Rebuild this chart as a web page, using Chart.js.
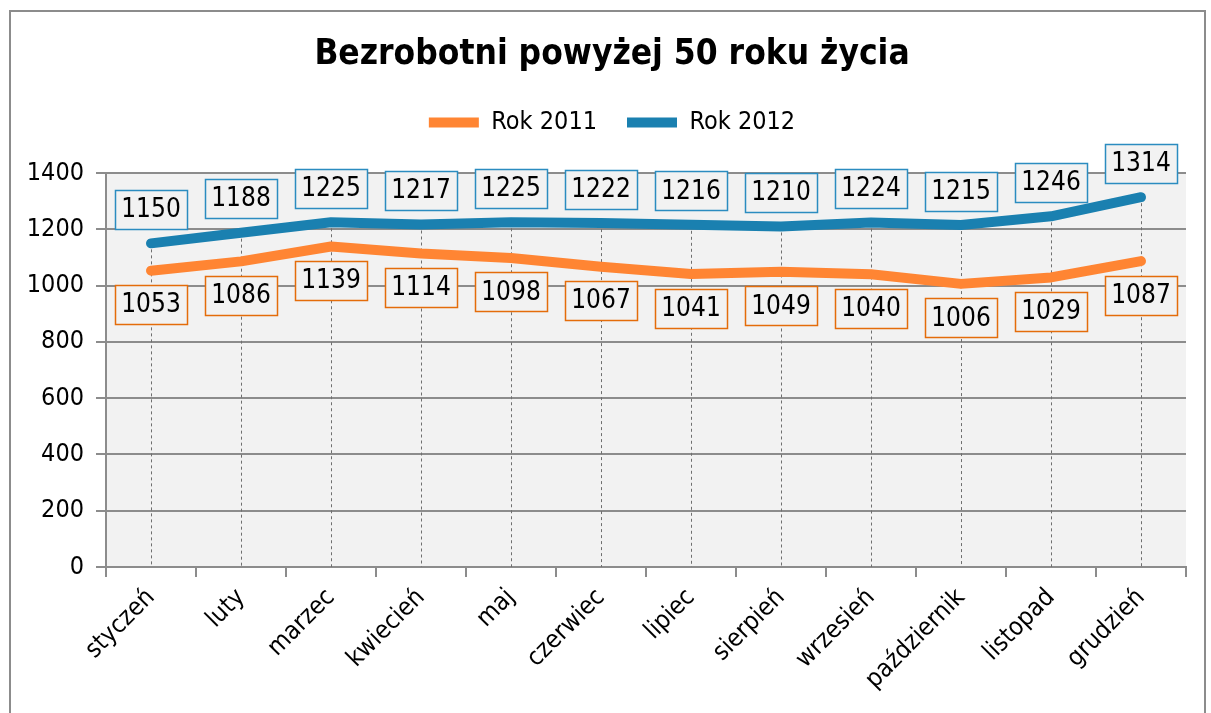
<!DOCTYPE html>
<html>
<head>
<meta charset="utf-8">
<script src="https://cdn.jsdelivr.net/npm/chart.js@4/dist/chart.umd.min.js"></script>
<style>
  html, body { margin: 0; padding: 0; background: #fff; overflow: hidden; }
  #frame { position: absolute; left: 9px; top: 10px; width: 1193px; height: 720px; border: 2px solid #8c8c8c; }
  #wrap { position: absolute; left: 0; top: 0; width: 1211px; height: 713px; }
</style>
</head>
<body>
<div id="frame"></div>
<div id="wrap"><canvas id="chart"></canvas></div>
<script>
// dane
const months = ['styczeń', 'luty', 'marzec', 'kwiecień', 'maj', 'czerwiec', 'lipiec', 'sierpień', 'wrzesień', 'październik', 'listopad', 'grudzień'];
const rok2011 = [1053, 1086, 1139, 1114, 1098, 1067, 1041, 1049, 1040, 1006, 1029, 1087];
const rok2012 = [1150, 1188, 1225, 1217, 1225, 1222, 1216, 1210, 1224, 1215, 1246, 1314];
const yMin = 0, yMax = 1400, yStep = 200;

const FONT = "'DejaVu Sans Condensed', 'DejaVu Sans', sans-serif";
const GRID = '#8c8c8c';

// szare tło obszaru wykresu
const plotBg = {
    id: 'plotBg',
    beforeDraw(chart) {
        const { ctx, chartArea: a } = chart;
        ctx.save();
        ctx.fillStyle = '#f2f2f2';
        ctx.fillRect(a.left, a.top, a.right - a.left, a.bottom - a.top);
        ctx.restore();
    }
};

// więcej miejsca pod legendą, tytuł i legenda lekko w prawo
const legendSpace = {
    id: 'legendSpace',
    beforeInit(chart) {
        const fit = chart.legend.fit;
        chart.legend.fit = function () {
            fit.call(this);
            this.height += 28;
        };
    },
    afterLayout(chart) {
        [chart.titleBlock, chart.legend].forEach(b => {
            if (b) { b.left += 14; b.right += 14; }
        });
    }
};

// linie spadku od najwyższego punktu do osi
const dropLines = {
    id: 'dropLines',
    beforeDatasetsDraw(chart) {
        const { ctx, chartArea: a } = chart;
        const m0 = chart.getDatasetMeta(0).data;
        const m1 = chart.getDatasetMeta(1).data;
        ctx.save();
        ctx.strokeStyle = '#6f6f6f';
        ctx.lineWidth = 1;
        ctx.setLineDash([3, 3]);
        m0.forEach((p, i) => {
            const x = Math.round(p.x) + 0.5;
            const top = Math.min(p.y, m1[i].y);
            ctx.beginPath();
            ctx.moveTo(x, top);
            ctx.lineTo(x, a.bottom);
            ctx.stroke();
        });
        ctx.restore();
    }
};

// etykiety danych w ramkach
const boxLabels = {
    id: 'boxLabels',
    afterDatasetsDraw(chart) {
        const { ctx } = chart;
        const w = 72, h = 39, gap = 34;
        ctx.save();
        ctx.font = '26px ' + FONT;
        ctx.textAlign = 'center';
        ctx.textBaseline = 'middle';
        chart.data.datasets.forEach((ds, di) => {
            const dir = di === 0 ? 1 : -1;
            chart.getDatasetMeta(di).data.forEach((p, i) => {
                const cx = p.x, cy = p.y + dir * gap;
                const x = Math.round(cx - w / 2) + 0.5, y = Math.round(cy - h / 2) + 0.5;
                ctx.fillStyle = '#f2f2f2';
                ctx.fillRect(x, y, w, h);
                ctx.strokeStyle = ds.labelBorder;
                ctx.lineWidth = 1.5;
                ctx.strokeRect(x, y, w, h);
                ctx.fillStyle = '#000';
                ctx.fillText(String(ds.data[i]), cx, cy + 1);
            });
        });
        ctx.restore();
    }
};

new Chart(document.getElementById('chart'), {
    type: 'line',
    data: {
        labels: months,
        datasets: [{
            label: 'Rok 2011',
            data: rok2011,
            borderColor: '#ff8533',
            backgroundColor: '#ff8533',
            labelBorder: '#e46c0a',
            borderWidth: 10,
            borderCapStyle: 'round',
            borderJoinStyle: 'round',
            pointRadius: 0,
            tension: 0
        }, {
            label: 'Rok 2012',
            data: rok2012,
            borderColor: '#1a80b0',
            backgroundColor: '#1a80b0',
            labelBorder: '#2b8cc0',
            borderWidth: 10,
            borderCapStyle: 'round',
            borderJoinStyle: 'round',
            pointRadius: 0,
            tension: 0
        }]
    },
    options: {
        responsive: true,
        maintainAspectRatio: false,
        animation: false,
        layout: { padding: { left: 10, right: 25, top: 0, bottom: 0 } },
        plugins: {
            title: {
                display: true,
                text: 'Bezrobotni powyżej 50 roku życia',
                color: '#000',
                font: { family: FONT, size: 35, weight: 'bold' },
                padding: { top: 34, bottom: 4 }
            },
            legend: {
                display: true,
                position: 'top',
                labels: {
                    usePointStyle: true,
                    pointStyle: 'line',
                    pointStyleWidth: 50,
                    color: '#000',
                    font: { family: FONT, size: 25 },
                    padding: 30
                }
            },
            tooltip: { enabled: false }
        },
        scales: {
            x: {
                offset: true,
                grid: { drawOnChartArea: false, offset: true, color: GRID, lineWidth: 2, tickLength: 10 },
                border: { color: GRID, width: 2 },
                ticks: { color: '#000', font: { family: FONT, size: 25 }, maxRotation: 45, minRotation: 45, padding: 6 },
                afterFit(scale) { scale.height = 146; }
            },
            y: {
                min: yMin,
                max: yMax,
                ticks: {
                    stepSize: yStep,
                    color: '#000',
                    font: { family: FONT, size: 25 },
                    padding: 12,
                    callback: v => String(v)
                },
                grid: { color: GRID, lineWidth: 2, tickLength: 10 },
                border: { color: GRID, width: 2 },
                afterFit(scale) { scale.width = 96; }
            }
        }
    },
    plugins: [plotBg, legendSpace, dropLines, boxLabels]
});
</script>
</body>
</html>
